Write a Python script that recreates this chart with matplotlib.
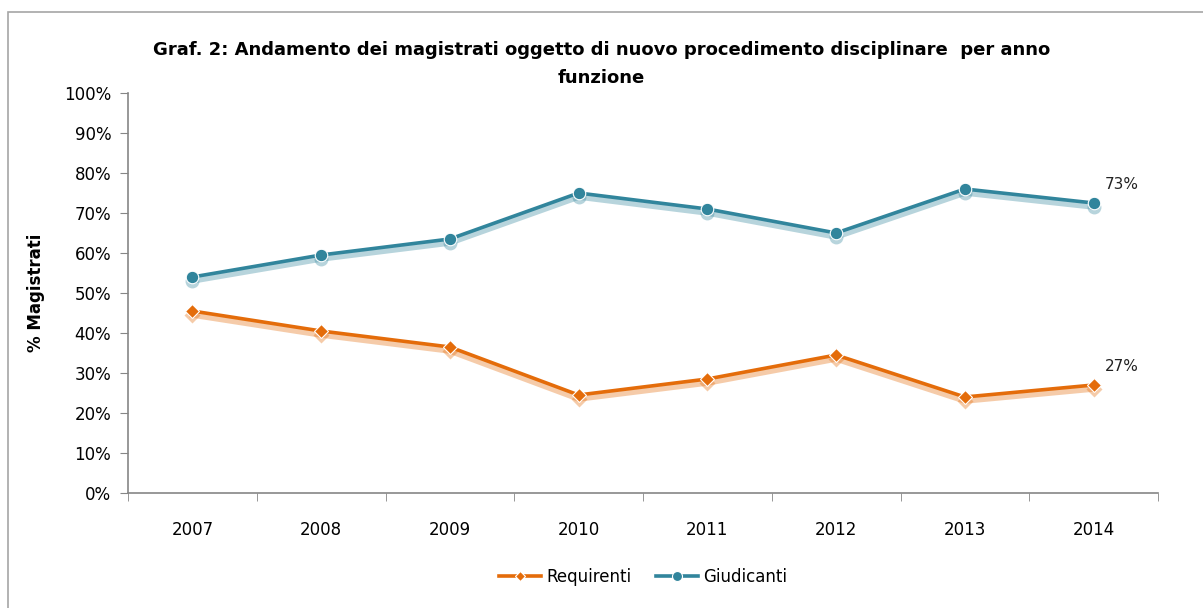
import matplotlib.pyplot as plt
from matplotlib.patches import Rectangle
from matplotlib.ticker import FixedLocator
from matplotlib.transforms import offset_copy

years = ["2007", "2008", "2009", "2010", "2011", "2012", "2013", "2014"]
requirenti = [45.5, 40.5, 36.5, 24.5, 28.5, 34.5, 24.0, 27.0]
giudicanti = [54.0, 59.5, 63.5, 75.0, 71.0, 65.0, 76.0, 72.5]
yticks = list(range(0, 101, 10))

orange = "#E46C0A"
teal = "#31859C"

fig = plt.figure(figsize=(12.03, 6.08), dpi=100)
fig.patches.append(Rectangle((8 / 1203, -0.01), 1.0, 1 - 12 / 608 + 0.01,
                             transform=fig.transFigure, fill=False,
                             edgecolor="#A6A6A6", linewidth=1.2))
ax = fig.add_axes([128 / 1203, 1 - 493 / 608, (1158 - 128) / 1203, 400 / 608])

x = list(range(len(years)))
# soft shadow under each line, shifted a few points down
shadow = offset_copy(ax.transData, fig=fig, x=0, y=-4, units="dots")
for vals, col, mk, ms, lab in [(requirenti, orange, "D", 7, "Requirenti"),
                               (giudicanti, teal, "o", 9, "Giudicanti")]:
    ax.plot(x, vals, color=col, linewidth=4, marker=mk, markersize=ms + 1,
            markeredgecolor="none", alpha=0.35, transform=shadow, zorder=2)
    ax.plot(x, vals, color=col, linewidth=2.6, marker=mk, markersize=ms,
            markeredgecolor="white", markeredgewidth=0.8, label=lab, zorder=3)

ax.annotate("73%", (x[-1], giudicanti[-1]), xytext=(8, 10), textcoords="offset points",
            fontsize=11, color="#222222")
ax.annotate("27%", (x[-1], requirenti[-1]), xytext=(8, 10), textcoords="offset points",
            fontsize=11, color="#222222")

ax.set_xlim(-0.5, len(years) - 0.5)
ax.set_ylim(0, 100)
ax.set_yticks(yticks)
ax.set_yticklabels([f"{v}%" for v in yticks], fontsize=12)
ax.set_xticks(x)
ax.set_xticklabels(years, fontsize=12)
ax.tick_params(axis="x", length=0, pad=20)
ax.xaxis.set_minor_locator(FixedLocator([i - 0.5 for i in range(len(years) + 1)]))
ax.tick_params(axis="x", which="minor", length=6, color="#868686")
ax.tick_params(axis="y", length=6, color="#868686", pad=6)
for s in ["top", "right"]:
    ax.spines[s].set_visible(False)
for s in ["left", "bottom"]:
    ax.spines[s].set_color("#868686")
    ax.spines[s].set_linewidth(1.2)

ax.set_ylabel("% Magistrati", fontsize=12, fontweight="bold", labelpad=14)
fig.text(0.5, 1 - 64 / 608,
         "Graf. 2: Andamento dei magistrati oggetto di nuovo procedimento disciplinare  per anno\nfunzione",
         ha="center", va="center", fontsize=13, fontweight="bold", family="Liberation Sans Narrow",
         linespacing=1.7)

ax.legend(loc="upper center", bbox_to_anchor=(0.5, -0.15), ncol=2, frameon=False,
          fontsize=12, handlelength=2.5, columnspacing=1.5, handletextpad=0.3,
          markerscale=0.8)

fig.savefig("out.png", dpi=100)
